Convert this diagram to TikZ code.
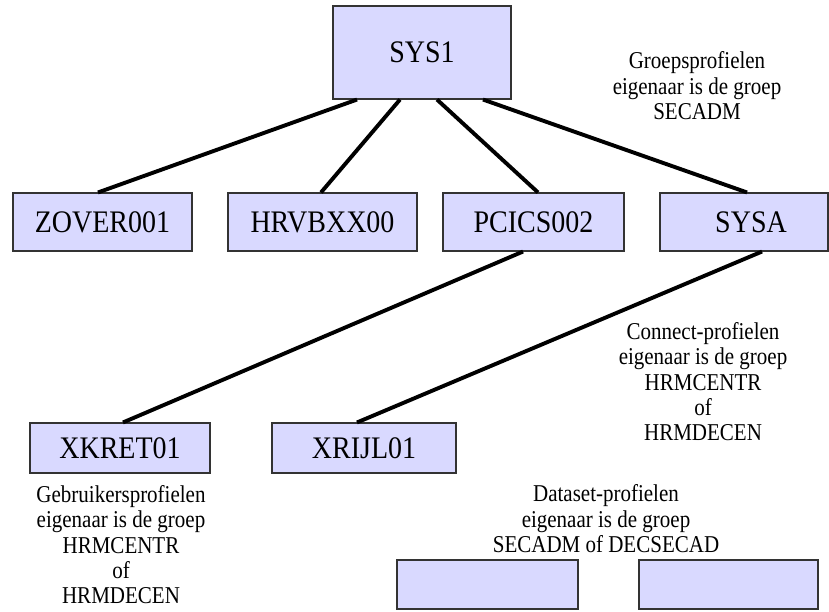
\documentclass[tikz,border=0pt]{standalone}
\usepackage{fontspec}
\usepackage{graphicx}
\setmainfont{Liberation Serif}
% slightly tall lettering for labels and notes
\newcommand{\tallbox}[1]{\scalebox{1}[1.12]{#1}}
\newcommand{\tallnote}[1]{\scalebox{1}[1.15]{\begin{tabular}{@{}c@{}}#1\end{tabular}}}
\begin{document}
\begin{tikzpicture}[x=1pt,y=-1pt,
  profbox/.style={draw=black!80,line width=1.1pt,fill=boxfill,inner sep=0pt,
    font=\fontsize{28}{32}\selectfont},
  note/.style={align=center,inner sep=0pt,font=\fontsize{21}{22}\selectfont},
  link/.style={line width=3.9pt,black}]
\definecolor{boxfill}{RGB}{217,217,255}
\useasboundingbox (0,0) rectangle (829,611);

% hierarchy boxes
\node[profbox,minimum width=178pt,minimum height=93pt] (sys1) at (422,52.5) {\tallbox{SYS1}};
\node[profbox,minimum width=179pt,minimum height=58pt] (zover) at (102.5,222) {\tallbox{ZOVER001}};
\node[profbox,minimum width=189pt,minimum height=58pt] (hrvb) at (322.5,222) {\tallbox{HRVBXX00}};
\node[profbox,minimum width=181pt,minimum height=58pt] (pcics) at (533.5,222) {\tallbox{PCICS002}};
\node[profbox,minimum width=168pt,minimum height=58pt] (sysa) at (744,222) {\hspace{14pt}\tallbox{SYSA}};
\node[profbox,minimum width=180pt,minimum height=50pt] (xkret) at (120,448) {\tallbox{XKRET01}};
\node[profbox,minimum width=184pt,minimum height=50pt] (xrijl) at (364,448) {\tallbox{XRIJL01}};
\node[profbox,minimum width=181pt,minimum height=49pt] (ds1) at (487.5,584.5) {};
\node[profbox,minimum width=179pt,minimum height=49pt] (ds2) at (728.5,584.5) {};

% connectors
\draw[link] ([xshift=-65pt]sys1.south) -- ([xshift=-4.5pt]zover.north);
\draw[link] ([xshift=-22pt]sys1.south) -- ([xshift=-1.5pt]hrvb.north);
\draw[link] ([xshift=15pt]sys1.south) -- ([xshift=4.5pt]pcics.north);
\draw[link] ([xshift=61pt]sys1.south) -- ([xshift=3pt]sysa.north);
\draw[link] ([xshift=-10.5pt]pcics.south) -- ([xshift=3pt]xkret.north);
\draw[link] ([xshift=18pt]sysa.south) -- ([xshift=-7pt]xrijl.north);

% ownership notes
\node[note] (groeps) at (697,89) {\tallnote{Groepsprofielen\\eigenaar is de groep\\SECADM}};
\node[note] (connect) at (703,385) {\tallnote{Connect-profielen\\eigenaar is de groep\\HRMCENTR\\of\\HRMDECEN}};
\node[note] (gebr) at (121,548) {\tallnote{Gebruikersprofielen\\eigenaar is de groep\\HRMCENTR\\of\\HRMDECEN}};
\node[note] (dataset) at (606,522) {\tallnote{Dataset-profielen\\eigenaar is de groep\\SECADM of DECSECAD}};
\end{tikzpicture}
\end{document}
